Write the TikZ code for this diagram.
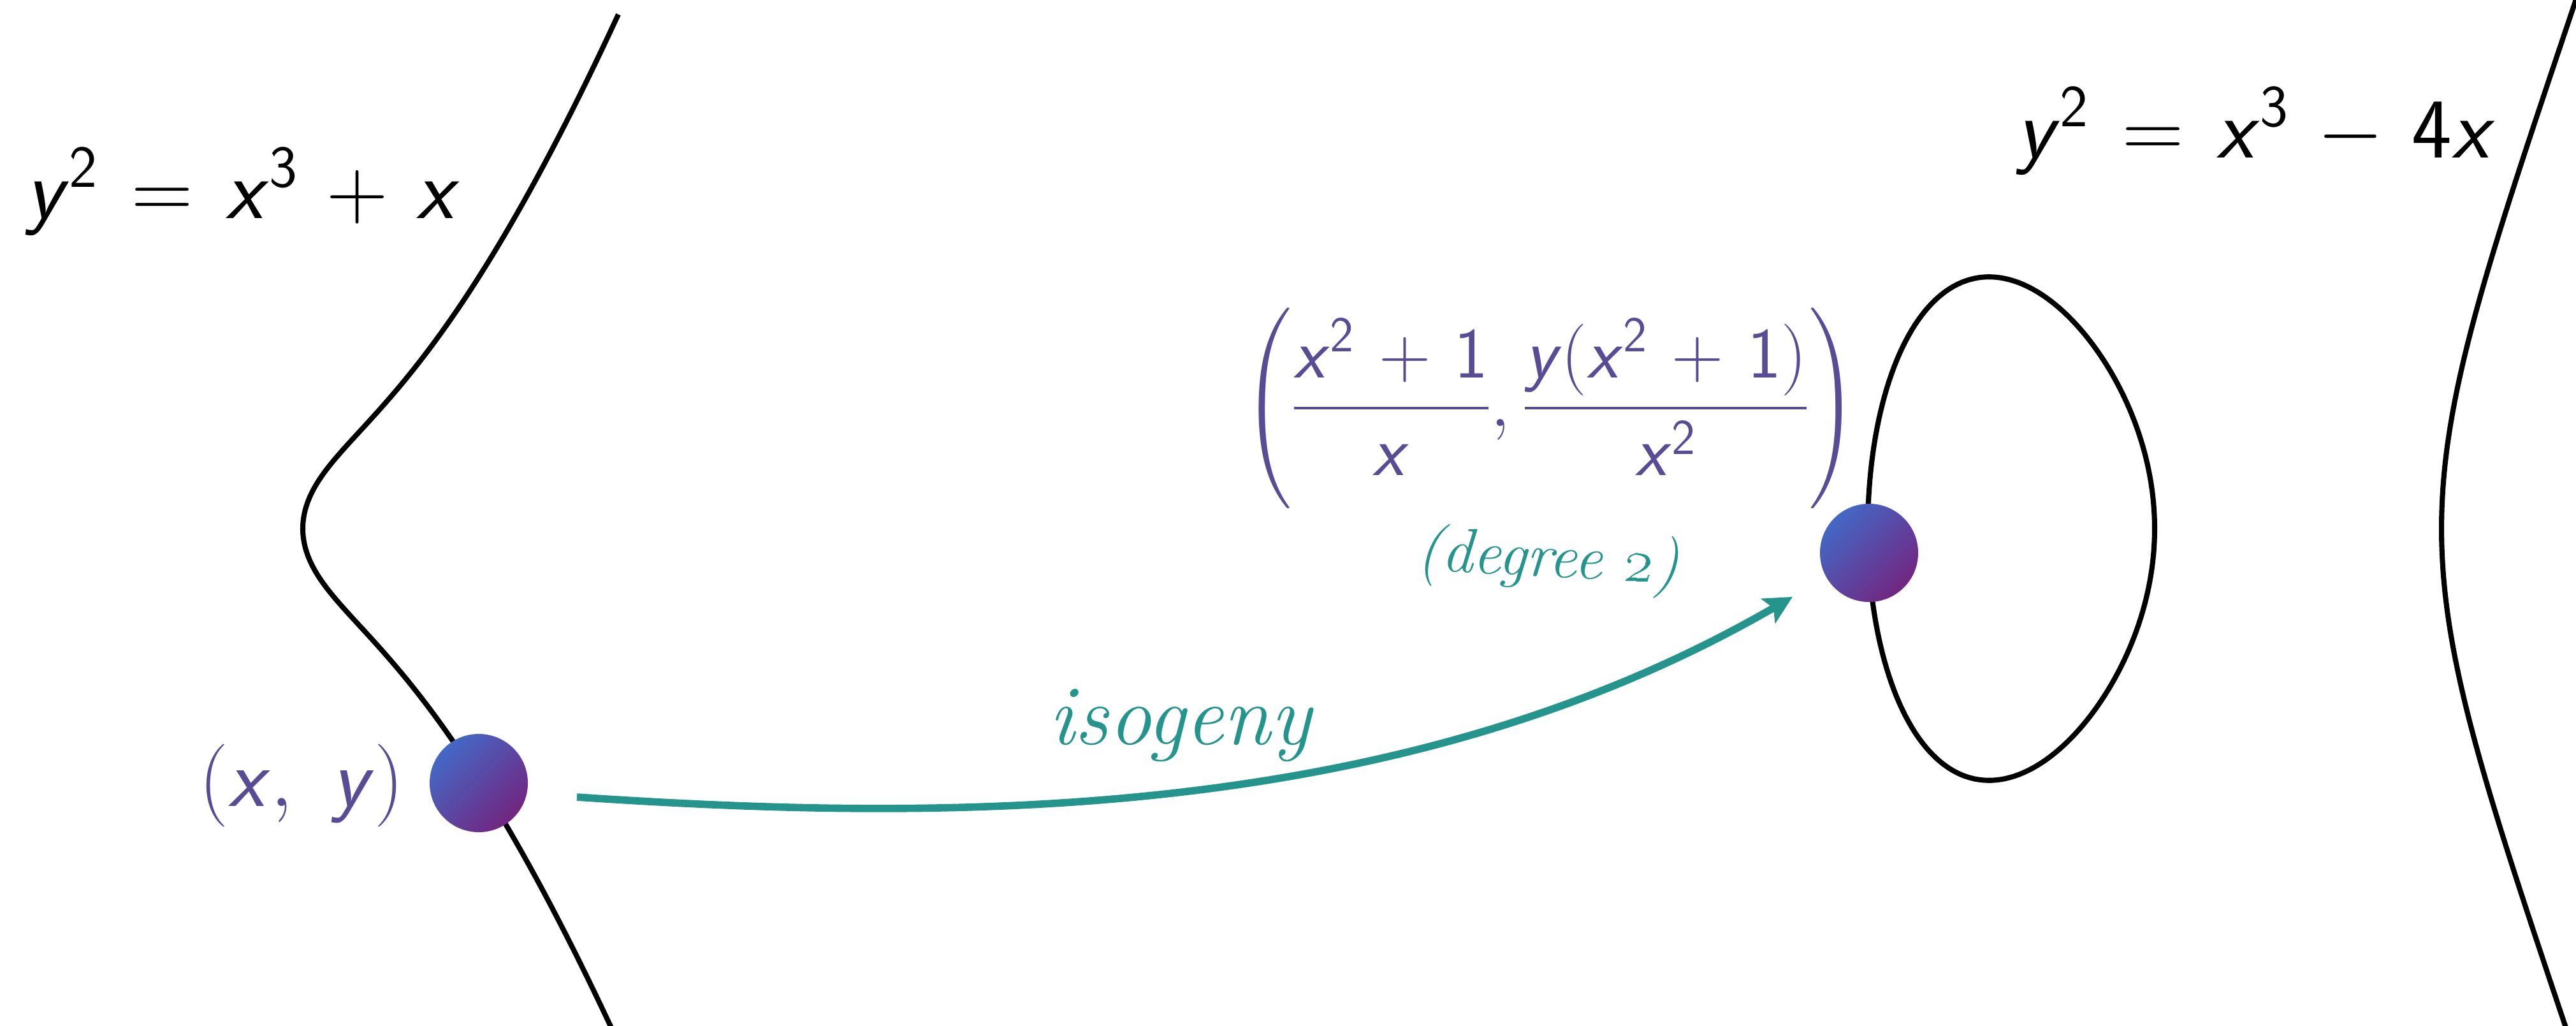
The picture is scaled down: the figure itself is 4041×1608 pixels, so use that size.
\RequirePackage{fix-cm}
\documentclass[tikz,border=0pt]{standalone}
\usepackage{amsmath}
\usetikzlibrary{arrows.meta}
\definecolor{eqpurple}{RGB}{90,76,148}
\definecolor{isoteal}{RGB}{36,148,140}
\definecolor{dotblue}{RGB}{68,104,198}
\definecolor{dotpurple}{RGB}{114,38,128}
\newcommand{\sv}[1]{\text{\normalfont\sffamily\itshape #1\/}}
\newcommand{\sn}[1]{\text{\normalfont\sffamily #1}}
\newcommand{\widespacing}{\thickmuskip=7mu plus 2mu\medmuskip=6mu plus 2mu}
\begin{document}
\begin{tikzpicture}[x=0.01cm,y=-0.01cm,
  curve/.style={line width=2.3pt, black, line join=round},
  dot/.style={circle, inner sep=0pt, minimum size=1.54cm, top color=dotblue, bottom color=dotpurple, shading angle=45},
  eqtext/.style={inner sep=0pt, text=black, font=\fontsize{38}{44}\selectfont\widespacing},
  pttext/.style={inner sep=0pt, text=eqpurple, font=\fontsize{37}{44}\selectfont},
  fractext/.style={inner sep=0pt, text=eqpurple, font=\fontsize{32}{38}\selectfont\widespacing},
  isotext/.style={inner sep=0pt, text=isoteal, font=\fontsize{38}{44}\selectfont\itshape},
  degtext/.style={inner sep=0pt, text=isoteal, font=\fontsize{28}{33}\selectfont\itshape},
  isoarrow/.style={isoteal, line width=3.3pt, -{Stealth[length=12.5pt, width=12.5pt, inset=2.6pt]}}
]
\useasboundingbox (0,0) rectangle (4041,1608);
\begin{scope}
\clip (0,0) rectangle (4041,1608);
% y^2 = x^3 + x
\draw[curve] plot[domain=-1.484:1.484, samples=160, variable=\v]
  ({475+225*\v*\v},{829-225*\v*sqrt(\v*\v*\v*\v+1)});
% y^2 = x^3 - 4x : oval
\draw[curve] plot[domain=0:360, samples=200, variable=\t]
  ({3380+225*(-1+cos(\t))},{829-225*sin(\t)*sqrt(3-cos(\t))}) -- cycle;
% y^2 = x^3 - 4x : unbounded branch
\draw[curve] plot[domain=-1:1, samples=160, variable=\u]
  ({3380+450*cosh(\u)},{829-636.4*sinh(\u)*sqrt(cosh(\u))});
\end{scope}

\node[eqtext, anchor=base west] (eqL) at (40,342) {$\sv{y}^{\sn{2}} = \sv{x}^{\sn{3}} + \sv{x}$};
\node[eqtext, anchor=base west] (eqR) at (3163,247) {$\sv{y}^{\sn{2}} = \sv{x}^{\sn{3}} - \sn{4}\sv{x}$};

\node[dot] (p) at (751,1228) {};
\node[dot] (q) at (2932,867) {};

\node[pttext, anchor=base west] (plabel) at (312,1264) {$(\sv{x},\ \sv{y})$};
\node[fractext] (qlabel) at (2432,640) {$\displaystyle\left(\frac{\sv{x}^{\sn{2}}+\sn{1}}{\sv{x}},\frac{\sv{y}(\sv{x}^{\sn{2}}+\sn{1})}{\sv{x}^{\sn{2}}}\right)$};
\node[degtext, rotate=-3] (deg) at (2428,880) {(degree \oldstylenums{2})};
\node[isotext, anchor=base] (iso) at (1851,1167) {isogeny};

\coordinate (arrS) at (905,1250);
\coordinate (arrE) at (2812,936);
\draw[isoarrow] (arrS) .. controls (1500,1290) and (2200,1290) .. (arrE);
\end{tikzpicture}
\end{document}
